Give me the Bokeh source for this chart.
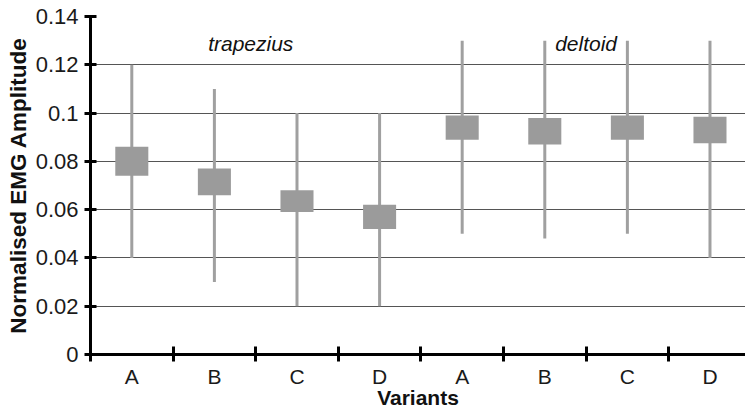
from bokeh.plotting import figure
from bokeh.models import ColumnDataSource, FixedTicker, Range1d, Label
from bokeh.embed import file_html
from bokeh.resources import INLINE

variants = ["A", "B", "C", "D", "A", "B", "C", "D"]
whisker_low = [0.040, 0.030, 0.020, 0.020, 0.050, 0.048, 0.050, 0.040]
whisker_high = [0.120, 0.110, 0.100, 0.100, 0.130, 0.130, 0.130, 0.130]
box_low = [0.074, 0.066, 0.059, 0.052, 0.089, 0.087, 0.089, 0.0875]
box_high = [0.086, 0.077, 0.068, 0.062, 0.099, 0.098, 0.099, 0.0985]
groups = ["trapezius", "deltoid"]
group_x = [1.94, 6.0]
y_ticks = [0, 0.02, 0.04, 0.06, 0.08, 0.1, 0.12, 0.14]
y_tick_labels = ["0", "0.02", "0.04", "0.06", "0.08", "0.1", "0.12", "0.14"]

pos = [i + 0.5 for i in range(len(variants))]
src = ColumnDataSource(dict(x=pos, wl=whisker_low, wh=whisker_high, bl=box_low, bh=box_high))

p = figure(width=745, height=411, output_backend="svg", toolbar_location=None,
           x_range=Range1d(0, 7.93), y_range=Range1d(0, 0.14),
           min_border_left=90, min_border_right=0, min_border_top=16, min_border_bottom=55)
p.outline_line_color = None
p.background_fill_color = "white"

p.segment(x0="x", y0="wl", x1="x", y1="wh", source=src, line_color="#a0a0a0", line_width=3)
p.vbar(x="x", bottom="bl", top="bh", width=0.4, source=src, fill_color="#9b9b9b", line_color=None)

# y axis
ya = p.yaxis[0]
ya.ticker = FixedTicker(ticks=y_ticks, minor_ticks=[])
ya.major_label_overrides = {t: l for t, l in zip(y_ticks, y_tick_labels)}
ya.axis_line_width = 3
ya.axis_line_color = "black"
ya.major_tick_line_width = 3
ya.major_tick_in = 6
ya.major_tick_out = 6
ya.major_tick_line_color = "black"
ya.major_label_text_font = "Liberation Sans"
ya.major_label_text_font_size = "22px"
ya.major_label_text_color = "#1a1a1a"
ya.major_label_standoff = 6
ya.axis_label = "Normalised EMG Amplitude"
ya.axis_label_text_font = "Liberation Sans"
ya.axis_label_text_font_style = "bold"
ya.axis_label_text_font_size = "22.5px"
ya.axis_label_text_color = "#111111"
ya.axis_label_standoff = 2

# x axis
xa = p.xaxis[0]
xa.ticker = FixedTicker(ticks=pos, minor_ticks=list(range(len(variants) + 1)))
xa.major_label_overrides = {x: v for x, v in zip(pos, variants)}
xa.axis_line_width = 3
xa.axis_line_color = "black"
xa.major_tick_line_color = None
xa.minor_tick_line_color = "black"
xa.minor_tick_line_width = 3
xa.minor_tick_in = 8
xa.minor_tick_out = 7
xa.major_tick_in = 0
xa.major_tick_out = 7
xa.major_label_text_font = "Liberation Sans"
xa.major_label_text_font_size = "21px"
xa.major_label_text_color = "#1a1a1a"
xa.major_label_standoff = 3
xa.axis_label = "Variants"
xa.axis_label_text_font = "Liberation Sans"
xa.axis_label_text_font_style = "bold"
xa.axis_label_text_font_size = "21px"
xa.axis_label_text_color = "#111111"
xa.axis_label_standoff = -5

p.xgrid.grid_line_color = None
p.ygrid.ticker = FixedTicker(ticks=y_ticks)
p.ygrid.grid_line_color = "#555555"
p.ygrid.grid_line_width = 1

for gx, name in zip(group_x, groups):
    p.add_layout(Label(x=gx, y=0.129, text=name, text_font="Liberation Sans",
                       text_font_style="italic", text_font_size="21px",
                       text_align="center", text_baseline="middle", text_color="#111111"))

open("out.html", "w").write(file_html(p, INLINE))
